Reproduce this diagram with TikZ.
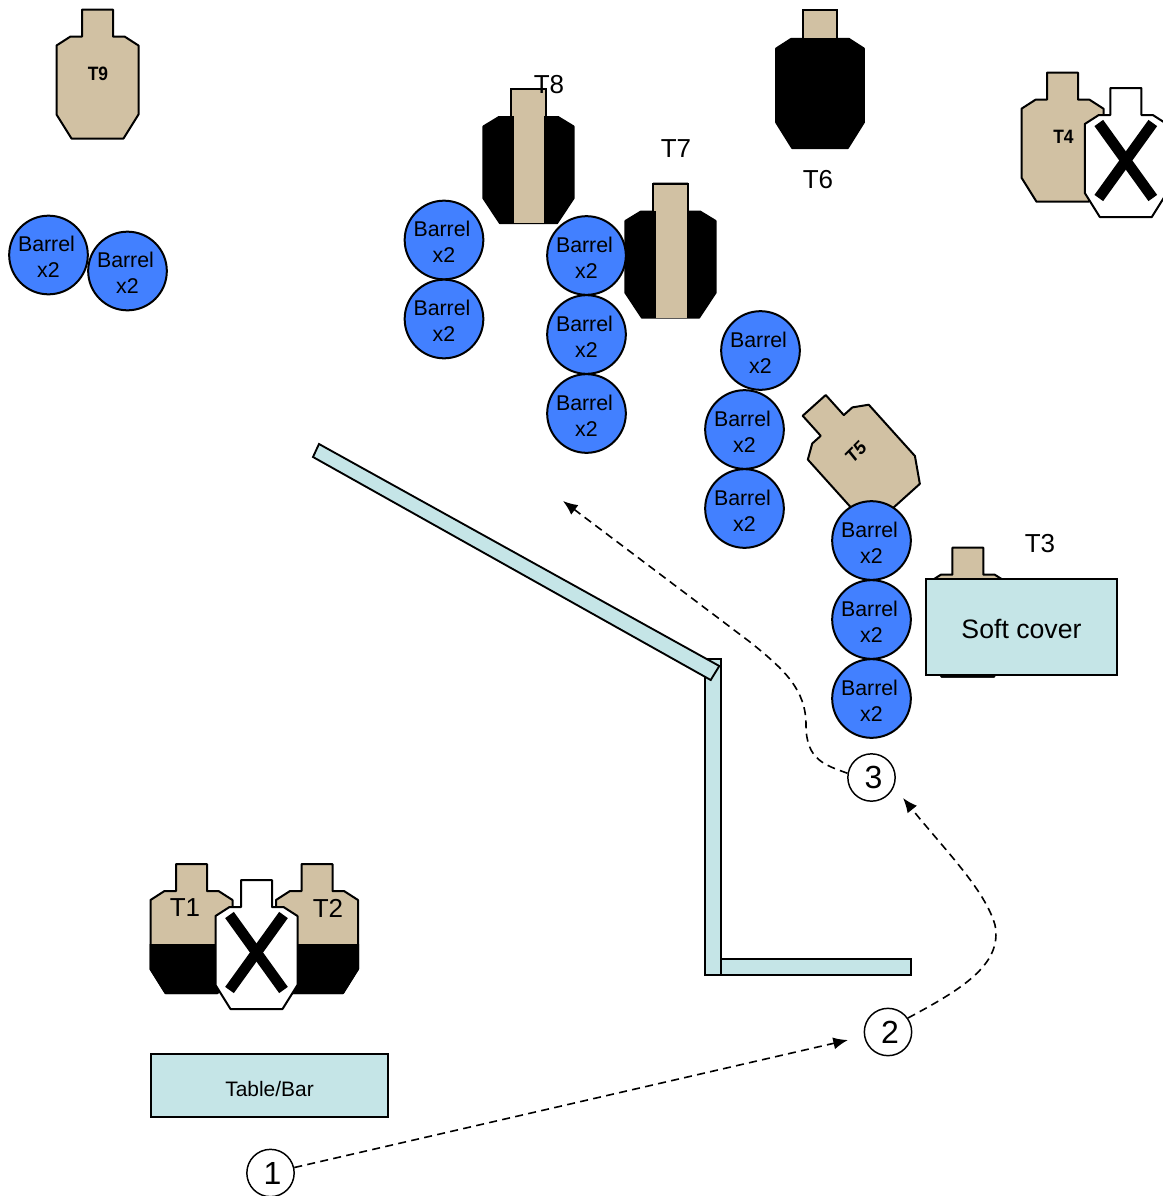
\documentclass[tikz,border=0pt]{standalone}
\usepackage{fontspec}
\setmainfont{Liberation Sans}
\usetikzlibrary{arrows.meta}
\definecolor{tan}{RGB}{209,193,163}
\definecolor{barrelblue}{RGB}{66,128,255}
\definecolor{wallblue}{RGB}{197,229,231}
\newcommand{\tgtoutline}{(-15.5,0) -- (15.5,0) -- (15.5,27) -- (27,27) -- (41,36) -- (41,105) -- (26,129) -- (-26,129) -- (-41,105) -- (-41,36) -- (-27,27) -- (-15.5,27) -- cycle}
\newcommand{\barreltxt}{\rule{0pt}{14.5pt}Barrel\kern3pt\\x2}
\tikzset{
  tantgt/.pic={\draw[fill=tan,line width=1.5pt,line join=round] \tgtoutline;},
  halftgt/.pic={
    \draw[fill=tan,line width=1.5pt,line join=round] \tgtoutline;
    \begin{scope}
      \clip (-50,80) rectangle (50,140);
      \draw[fill=black,line width=1.5pt,line join=round] \tgtoutline;
    \end{scope}
  },
  blacktgt/.pic={
    \draw[fill=black,line width=1.5pt,line join=round] \tgtoutline;
    \draw[fill=tan,line width=1.5pt] (-15.5,0) rectangle (15.5,27);
  },
  xtgt/.pic={
    \draw[fill=white,line width=1.5pt,line join=round] \tgtoutline;
    \draw[line width=8pt] (-27,35) -- (27,110);
    \draw[line width=8pt] (27,35) -- (-27,110);
  }
}
\begin{document}
\begin{tikzpicture}[x=0.75pt,y=-0.75pt,node distance=59.25pt]

\tikzstyle{barrel} = [circle,minimum size=59pt,inner sep=0pt,align=center,draw=black,line width=1.5pt,fill=barrelblue,font=\fontsize{16}{19.5}\selectfont]
\tikzstyle{cover} = [rectangle,draw=black,line width=1.4pt,fill=wallblue]
\tikzstyle{wall} = [draw=black,line width=1.4pt,fill=wallblue]
\tikzstyle{stage} = [circle,minimum size=35.5pt,inner sep=0pt,draw=black,line width=1.1pt,fill=white,font=\fontsize{24}{24}\selectfont]
\tikzstyle{tlabel} = [inner sep=0pt,font=\fontsize{19.5}{19.5}\selectfont]
\tikzstyle{blabel} = [inner sep=0pt,xscale=0.9,font=\fontsize{14.5}{14.5}\selectfont\bfseries]
\tikzstyle{route} = [dashed,dash pattern=on 6pt off 4pt,line width=1.2pt,-{Latex[length=11pt,width=9pt]}]

\useasboundingbox (0,0) rectangle (1163,1196);

% targets
\pic at (97.5,9.5) {tantgt};
\pic at (1062.5,72.7) {tantgt};
\pic at (1125.8,88) {xtgt};
\pic at (820,10) [xscale=1.07,yscale=1.07] {blacktgt};
\pic at (528.5,89) [xscale=1.1,yscale=1.04] {blacktgt};
\fill[tan] (513.5,92) rectangle (544,223);
\pic at (670.5,183.5) [xscale=1.1,yscale=1.04] {blacktgt};
\fill[tan] (655.7,186) rectangle (686.7,318);
\pic at (814.2,405.4) [rotate=42] {tantgt};
\pic at (967.8,547.7) {halftgt};
\pic at (191.5,864) {halftgt};
\pic at (317,864) {halftgt};
\pic at (256.5,880) {xtgt};

% walls
\draw[wall] (705,659) rectangle (721,975);
\draw[wall] (721,959) rectangle (911,975);
\draw[wall] (319,444) -- (719.3,666) -- (710.7,680) -- (313,457) -- cycle;

% barrels
\node (b1) [barrel] at (48.5,255) {\barreltxt};
\node (b2) [barrel] at (127.5,271) {\barreltxt};
\node (b3) [barrel] at (444,240) {\barreltxt};
\node (b4) [barrel, below of=b3] {\barreltxt};
\node (b5) [barrel] at (586.5,255.5) {\barreltxt};
\node (b6) [barrel, below of=b5] {\barreltxt};
\node (b7) [barrel, below of=b6] {\barreltxt};
\node (b8) [barrel] at (760.5,350.5) {\barreltxt};
\node (b9) [barrel] at (744.5,429.5) {\barreltxt};
\node (b10) [barrel, below of=b9] {\barreltxt};
\node (b11) [barrel] at (871.5,540.5) {\barreltxt};
\node (b12) [barrel, below of=b11] {\barreltxt};
\node (b13) [barrel, below of=b12] {\barreltxt};

% covers
\node (soft) [cover,minimum width=143.25pt,minimum height=72pt,font=\fontsize{20}{20}\selectfont] at (1021.5,627) {\rule{0pt}{17.5pt}Soft cover};
\node (table) [cover,minimum width=177.75pt,minimum height=47.25pt,font=\fontsize{15.7}{15.7}\selectfont] at (269.5,1085.5) {\rule{0pt}{16pt}Table/Bar};

% labels
\node (t1) [tlabel] at (185,908) {T1};
\node (t2) [tlabel] at (328,908) {T2};
\node (t3) [tlabel] at (1040,544) {T3};
\node (t6) [tlabel] at (818,180) {T6};
\node (t7) [tlabel] at (676,149) {T7};
\node (t8) [tlabel] at (549,85) {T8};
\node (t9) [blabel] at (98,74) {T9};
\node (t4) [blabel] at (1063.5,137) {T4};
\node (t5) [blabel,rotate=42] at (856,452) {T5};

% route
\node (one) [stage] at (270.5,1173) {\kern3pt\raisebox{-1pt}{1}};
\node (two) [stage] at (888,1032) {\kern3pt\raisebox{-1pt}{2}};
\node (three) [stage] at (871.5,777.5) {\kern3pt\raisebox{-1pt}{3}};
\coordinate (twotip) at (848,1040);
\coordinate (threetip) at (903,798);
\coordinate (endtip) at (563,501);
\draw[route] (one) -- (twotip);
\draw[route] (two.35) .. controls (960,990) and (1003,965) .. (995,925) .. controls (985,890) and (945,850) .. (threetip);
\draw[route] (three.170) .. controls (825,765) and (806,760) .. (806,725) .. controls (806,690) and (785,670) .. (750,642) -- (endtip);
\end{tikzpicture}
\end{document}
